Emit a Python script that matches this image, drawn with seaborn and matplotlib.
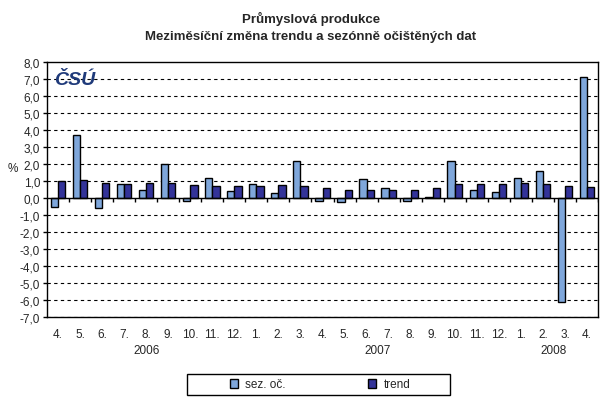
import matplotlib
matplotlib.use("Agg")
import matplotlib.pyplot as plt
import matplotlib.transforms as mtransforms
from matplotlib.patches import Rectangle
import numpy as np
import pandas as pd
import seaborn as sns

months = ["4.", "5.", "6.", "7.", "8.", "9.", "10.", "11.", "12.",
          "1.", "2.", "3.", "4.", "5.", "6.", "7.", "8.", "9.", "10.", "11.", "12.",
          "1.", "2.", "3.", "4."]
years = ["2006"] * 9 + ["2007"] * 12 + ["2008"] * 4
sez_oc = [-0.5, 3.7, -0.6, 0.8, 0.5, 2.0, -0.2, 1.2, 0.4,
          0.8, 0.3, 2.2, -0.2, -0.25, 1.1, 0.6, -0.2, 0.05, 2.2, 0.5, 0.35,
          1.2, 1.6, -6.1, 7.1]
trend = [1.0, 1.05, 0.9, 0.8, 0.9, 0.9, 0.75, 0.7, 0.7,
         0.7, 0.75, 0.7, 0.6, 0.5, 0.5, 0.5, 0.5, 0.6, 0.8, 0.8, 0.8,
         0.9, 0.8, 0.7, 0.65]
year_labels = ["2006", "2007", "2008"]

keys = [f"{m}{y}" for m, y in zip(months, years)]
df = pd.DataFrame({
    "key": keys * 2,
    "value": sez_oc + trend,
    "series": ["sez. oč."] * len(keys) + ["trend"] * len(keys),
})

sns.set_theme(style="white")
plt.rcParams["font.family"] = ["Liberation Sans", "DejaVu Sans"]

fig = plt.figure(figsize=(6.09, 4.06), dpi=100)
ax = fig.add_axes([47 / 609, 1 - 318 / 406, 551 / 609, 255 / 406])

sns.barplot(data=df, x="key", y="value", hue="series", order=keys,
            palette=["#7FA7DB", "#333399"], width=0.66, edgecolor="black",
            linewidth=1.0, saturation=1, ax=ax, legend=True)

ax.set_xlim(-0.5, len(keys) - 0.5)
ax.set_ylim(-7, 8)
ax.set_yticks(np.arange(-7, 9, 1))
ax.set_yticklabels([f"{v:.1f}".replace(".", ",") for v in np.arange(-7, 9, 1)], fontsize=8.5)
for v in range(-7, 8):
    if v != 0:
        ax.axhline(v, color="black", linestyle=(0, (3, 3)), linewidth=0.8, zorder=0)
ax.axhline(0, color="black", linewidth=1.0, zorder=3)
ax.vlines(np.arange(len(keys)) + 0.5, -0.22, 0, color="black", linewidth=1.0, zorder=3)

ax.set_xticks(range(len(keys)))
ax.set_xticklabels(months, fontsize=8.5)
ax.tick_params(axis="x", length=0, pad=8)
ax.tick_params(axis="y", length=3, width=1, color="black", direction="out", pad=2, left=True)
ax.set_xlabel("")
ax.set_ylabel("%", rotation=0, fontsize=8.5, labelpad=6)
ax.yaxis.set_label_coords(-0.062, 0.56)
for s in ax.spines.values():
    s.set_color("black")
    s.set_linewidth(1.0)

trans = mtransforms.blended_transform_factory(ax.transData, ax.transAxes)
for yr in year_labels:
    idx = [i for i, y in enumerate(years) if y == yr]
    ax.text(np.mean(idx), -0.13, yr, transform=trans, ha="center", va="center", fontsize=8.5)

ax.text(0.012, 0.965, "ČSÚ", transform=ax.transAxes, ha="left", va="top",
        fontsize=14, fontweight="heavy", fontstyle="italic", color="#1F3A7A")

fig.text(0.51, 0.952, "Průmyslová produkce", ha="center", va="center",
         fontsize=9.5, fontweight="bold")
fig.text(0.51, 0.91, "Meziměsíční změna trendu a sezónně očištěných dat", ha="center",
         va="center", fontsize=9.5, fontweight="bold")

# legend frame drawn separately, wider than its entries
fig.patches.append(Rectangle((187 / 609, 1 - 396 / 406), 263 / 609, 21 / 406,
                             transform=fig.transFigure, facecolor="white",
                             edgecolor="black", linewidth=1.0))
handles, labels = ax.get_legend_handles_labels()
ax.get_legend().remove()
leg = fig.legend(handles, labels, loc="center", bbox_to_anchor=(320 / 609, 1 - 385.5 / 406),
                 ncol=2, frameon=False, fontsize=8.5,
                 handlelength=0.7, handleheight=0.7, columnspacing=7, borderpad=0.3,
                 handletextpad=0.6, borderaxespad=0)
for h in leg.legend_handles:
    h.set_edgecolor("black")

fig.savefig("out.png", dpi=100)
